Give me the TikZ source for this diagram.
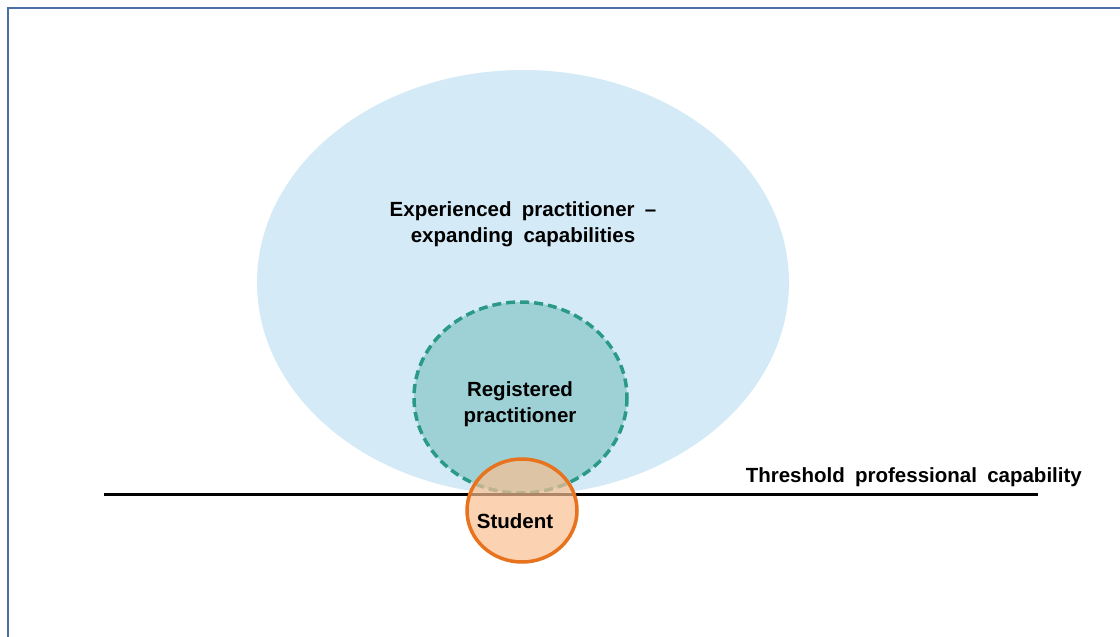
\documentclass[tikz,border=0pt]{standalone}
\usepackage{fontspec}
\setmainfont{Liberation Sans}
\usetikzlibrary{shapes.geometric}
\definecolor{framecol}{HTML}{4A6FA5}
\definecolor{bigfill}{HTML}{D4EBF7}
\definecolor{regfill}{HTML}{9DD1D5}
\definecolor{regline}{HTML}{2A9A86}
\definecolor{stufill}{HTML}{F9BF91}
\definecolor{stuline}{HTML}{E8731E}
\newcommand{\lblfont}{\fontsize{20.5}{25.5}\selectfont\bfseries\spaceskip=0.5em\relax}
\tikzset{
  lbl/.style={font=\lblfont, align=center, inner sep=0pt, text=black},
}
\begin{document}
\begin{tikzpicture}[x=1pt,y=-1pt]
\useasboundingbox (0,0) rectangle (1120,637);
% frame
\draw[framecol, line width=2pt] (8,640) -- (8,8) -- (1125,8);
% big ellipse
\fill[bigfill] (523,282.5) ellipse [x radius=266, y radius=212.5];
% registered
\draw[regline, fill=regfill, line width=3.5pt, dash pattern=on 9pt off 5pt] (520.5,397.5) ellipse [x radius=106.5, y radius=95.5];
% threshold line
\coordinate (l1) at (104,494);
\coordinate (l2) at (1038,494);
\draw[black, line width=3pt] (l1) -- (l2);
% student
\draw[stuline, line width=3.5pt, fill=stufill, fill opacity=0.7] (522,510.5) ellipse [x radius=55, y radius=51.5];
% labels
\node[lbl] (exp) at (523,224) {Experienced practitioner –\\expanding capabilities};
\node[lbl] (reg) at (520,404) {Registered\\practitioner};
\node[lbl] (stu) at (515,521) {Student};
\node[lbl, anchor=base east] (thr) at (1082,482) {Threshold professional capability};
\end{tikzpicture}
\end{document}
